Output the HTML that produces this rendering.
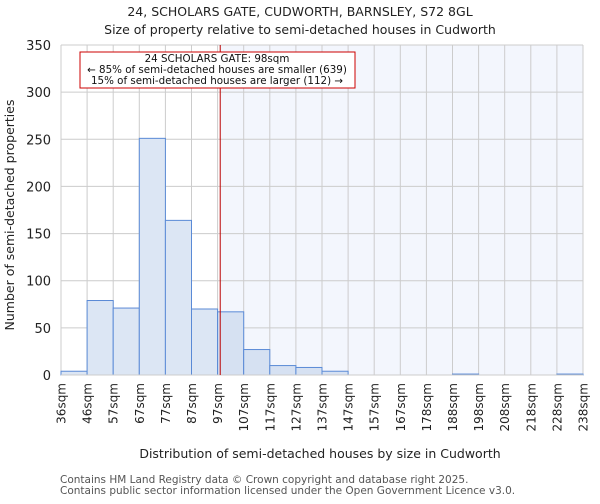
<!DOCTYPE html>
<html><head><meta charset="utf-8"><style>
body{margin:0;background:#fff;font-family:"DejaVu Sans","Liberation Sans",sans-serif}
</style></head><body>
<svg width="600" height="500" xmlns="http://www.w3.org/2000/svg" font-family="DejaVu Sans, Liberation Sans, sans-serif">
<text x="300" y="16" text-anchor="middle" font-size="12.5" fill="#222">24, SCHOLARS GATE, CUDWORTH, BARNSLEY, S72 8GL</text>
<text x="300" y="34" text-anchor="middle" font-size="12.5" fill="#222">Size of property relative to semi-detached houses in Cudworth</text>
<g id="plot"></g>
<text x="14" y="215" transform="rotate(-90 14 215)" text-anchor="middle" font-size="12.5" fill="#222">Number of semi-detached properties</text>
<text x="320" y="458" text-anchor="middle" font-size="12.5" fill="#222">Distribution of semi-detached houses by size in Cudworth</text>
<text x="60" y="483" font-size="10.5" fill="#555">Contains HM Land Registry data © Crown copyright and database right 2025.</text>
<text x="60" y="494" font-size="10.5" fill="#555">Contains public sector information licensed under the Open Government Licence v3.0.</text>
</svg>
<script>
const binLabels=["36sqm","46sqm","57sqm","67sqm","77sqm","87sqm","97sqm","107sqm","117sqm","127sqm","137sqm","147sqm","157sqm","167sqm","178sqm","188sqm","198sqm","208sqm","218sqm","228sqm","238sqm"];
const counts=[4,79,71,251,164,70,67,27,10,8,4,0,0,0,0,1,0,0,0,1];
const yTicks=[0,50,100,150,200,250,300,350];
const propertyBinPos=6.1;
const NS="http://www.w3.org/2000/svg";
const g=document.getElementById('plot');
const X0=61,X1=583,Y0=375,Y1=45,YMAX=350;
const bw=(X1-X0)/counts.length;
const xs=i=>X0+i*bw;
const ys=v=>Y0-(v/YMAX)*(Y0-Y1);
function mk(t,a){const e=document.createElementNS(NS,t);for(const k in a)e.setAttribute(k,a[k]);g.appendChild(e);return e;}
const px=xs(propertyBinPos);
let e=mk('rect',{x:px,y:Y1,width:X1-px,height:Y0-Y1,fill:'#f3f6fd'});


yTicks.forEach(v=>{
 let l=mk('line',{x1:X0,x2:X1,y1:ys(v),y2:ys(v),stroke:'#ccc','stroke-width':1});
 
 
 let t=mk('text',{x:X0-10,y:ys(v)+5,'text-anchor':'end','font-size':13,fill:'#222'});
 t.textContent=v;
 
 
});
binLabels.forEach((s,i)=>{
 let l=mk('line',{x1:xs(i),x2:xs(i),y1:Y1,y2:Y0,stroke:'#ccc','stroke-width':1});
 
 
 let x=xs(i)+4.5,y=Y0+8;
 let t=mk('text',{x:x,y:y,transform:`rotate(-90 ${x} ${y})`,'text-anchor':'end','font-size':12,fill:'#222'});
 t.textContent=s;
 
 
});
counts.forEach((c,i)=>{
 if(c<=0)return;
 let r=mk('rect',{x:xs(i),y:ys(c),width:bw,height:Y0-ys(c),fill:i>=6?'#d6e1f2':'#dce6f4',stroke:'#5a8ad6','stroke-width':1});
 
 
});
e=mk('line',{x1:X0,x2:X1,y1:Y0,y2:Y0,stroke:'#ccc'});


e=mk('line',{x1:px,x2:px,y1:Y1,y2:Y0,stroke:'#b00','stroke-width':1});


e=mk('rect',{x:80,y:52,width:275,height:36,fill:'#fff',stroke:'#c00','stroke-width':1});


["24 SCHOLARS GATE: 98sqm","← 85% of semi-detached houses are smaller (639)","15% of semi-detached houses are larger (112) →"].forEach((s,i)=>{
 let t=mk('text',{x:217,y:62+i*11,'text-anchor':'middle','font-size':10.3,fill:'#111'});
 t.textContent=s;
 
 
});
</script>
</body></html>
